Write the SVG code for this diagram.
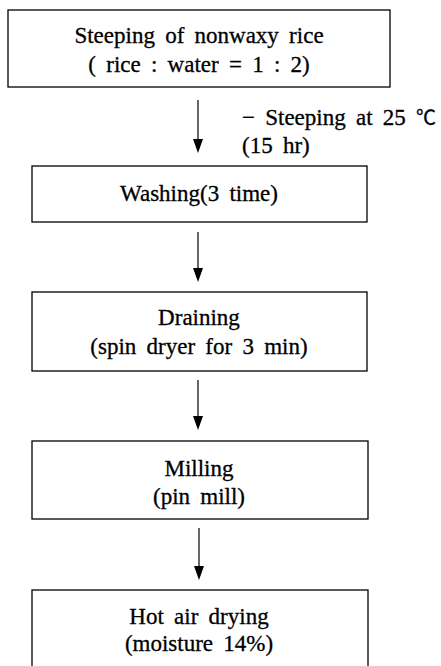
<svg xmlns="http://www.w3.org/2000/svg" width="441" height="666" viewBox="0 0 441 666">
<style>
.box{fill:#fff;stroke:#000;stroke-width:1.3}
.t{font-family:"Liberation Serif","Times New Roman",serif;font-size:23px;fill:#000;stroke:#000;stroke-width:0.3;text-anchor:middle;word-spacing:4.5px}
.l{font-family:"Liberation Serif","Times New Roman",serif;font-size:23px;fill:#000;stroke:#000;stroke-width:0.3;word-spacing:4.5px}
.c{stroke:#000;stroke-width:1.2;fill:none}
.ah{fill:#000}
</style>
<rect width="441" height="666" fill="#fff"/>
<g id="connectors">
<line class="c" x1="198" y1="100" x2="198" y2="142"/>
<path class="ah" d="M193,139 L203,139 L198,153 Z"/>
<line class="c" x1="198" y1="232" x2="198" y2="271"/>
<path class="ah" d="M193,268 L203,268 L198,282 Z"/>
<line class="c" x1="198" y1="380" x2="198" y2="419"/>
<path class="ah" d="M193,416 L203,416 L198,430 Z"/>
<line class="c" x1="199" y1="528" x2="199" y2="569"/>
<path class="ah" d="M194,566 L204,566 L199,580 Z"/>
</g>
<g id="label-steeping">
<text class="l" x="242" y="125">− Steeping at 25 <tspan font-family="Noto Sans CJK KR, sans-serif" font-size="20">℃</tspan></text>
<text class="l" x="242" y="153">(15 hr)</text>
</g>
<g id="n1">
<rect class="box" x="8" y="10" width="382" height="77"/>
<text class="t" x="199" y="43">Steeping of nonwaxy rice</text>
<text class="t" x="199" y="72">( rice : water = 1 : 2)</text>
</g>
<g id="n2">
<rect class="box" x="32" y="166" width="335" height="56"/>
<text class="t" x="199" y="201">Washing(3 time)</text>
</g>
<g id="n3">
<rect class="box" x="32" y="292" width="335" height="79"/>
<text class="t" x="199" y="325">Draining</text>
<text class="t" x="199" y="354">(spin dryer for 3 min)</text>
</g>
<g id="n4">
<rect class="box" x="32" y="441" width="336" height="78"/>
<text class="t" x="199" y="476">Milling</text>
<text class="t" x="199" y="504">(pin mill)</text>
</g>
<g id="n5">
<rect class="box" x="32" y="590" width="336" height="90"/>
<text class="t" x="199" y="624">Hot air drying</text>
<text class="t" x="199" y="651">(moisture 14%)</text>
</g>
</svg>
